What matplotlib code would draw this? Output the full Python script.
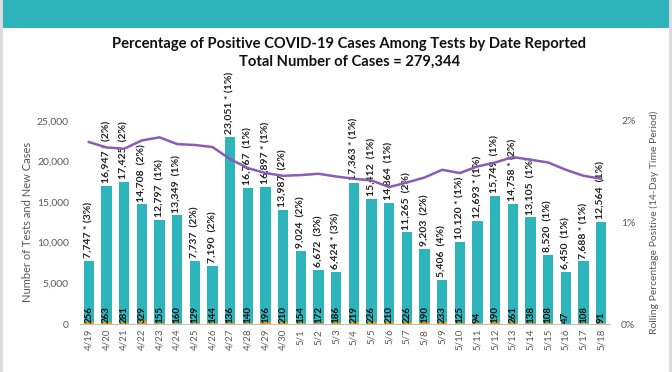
import matplotlib
matplotlib.use("Agg")
import matplotlib.pyplot as plt
from matplotlib.patches import Rectangle

plt.rcParams['font.family'] = ['Lato', 'DejaVu Sans']

dates = ["4/19", "4/20", "4/21", "4/22", "4/23", "4/24", "4/25", "4/26", "4/27", "4/28",
         "4/29", "4/30", "5/1", "5/2", "5/3", "5/4", "5/5", "5/6", "5/7", "5/8",
         "5/9", "5/10", "5/11", "5/12", "5/13", "5/14", "5/15", "5/16", "5/17", "5/18"]
tests = [7747, 16947, 17425, 14708, 12797, 13349, 7737, 7190, 23051, 16767,
         16897, 13987, 9024, 6672, 6424, 17363, 15412, 14864, 11265, 9203,
         5406, 10120, 12693, 15749, 14758, 13105, 8520, 6450, 7688, 12564]
cases = [256, 263, 281, 329, 155, 160, 129, 144, 136, 140,
         196, 210, 154, 172, 186, 219, 226, 210, 226, 190,
         233, 125, 94, 190, 261, 138, 108, 47, 108, 91]
daily_pct = [3, 2, 2, 2, 1, 1, 2, 2, 1, 1,
             1, 2, 2, 3, 3, 1, 1, 1, 2, 2,
             4, 1, 1, 1, 2, 1, 1, 1, 1, 1]
starred = [True, True, False, False, False, False, False, False, True, False,
           True, False, False, False, True, True, False, False, False, False,
           False, True, True, False, True, False, False, False, True, False]
rolling_pct = [1.79, 1.737, 1.724, 1.806, 1.836, 1.77, 1.761, 1.741, 1.622, 1.534,
               1.485, 1.458, 1.465, 1.478, 1.451, 1.429, 1.412, 1.347, 1.392, 1.441,
               1.517, 1.485, 1.55, 1.589, 1.642, 1.616, 1.589, 1.517, 1.458, 1.429]

TEAL = "#2eb4bb"
ORANGE = "#e0a21c"
PURPLE = "#8a5cb8"
GRAY = "#595959"

fig = plt.figure(figsize=(6.72, 3.72), dpi=100)
fig.patch.set_facecolor("white")

# header band and frame
fig.add_artist(Rectangle((0.003, 1 - 28 / 372), 0.994, 28 / 372, transform=fig.transFigure,
                         facecolor="#2eb4bb", edgecolor="none"))
fig.add_artist(Rectangle((0, 0), 3 / 672, 1, transform=fig.transFigure,
                         facecolor="#dcdce0", edgecolor="none"))
fig.add_artist(Rectangle((1 - 3 / 672, 0), 3 / 672, 1, transform=fig.transFigure,
                         facecolor="#dcdce0", edgecolor="none"))

fig.text(0.52, 1 - 44 / 372, "Percentage of Positive COVID-19 Cases Among Tests by Date Reported",
         ha="center", va="center", fontsize=10.6, fontweight="bold", color="#111111")
fig.text(0.52, 1 - 62 / 372, "Total Number of Cases = 279,344",
         ha="center", va="center", fontsize=10.6, fontweight="bold", color="#111111")

ax = fig.add_axes([80 / 672, 48 / 372, 530 / 672, (324 - 120.7) / 372])
x = list(range(len(dates)))
ax.bar(x, tests, width=0.6, color=TEAL, zorder=2)
ax.bar(x, cases, width=0.6, color=ORANGE, zorder=3)

for i in x:
    star = " *" if starred[i] else " "
    lab = f"{tests[i]:,}{star} ({daily_pct[i]}%)"
    ax.text(i, tests[i] + 350, lab, rotation=90, ha="center", va="bottom",
            fontsize=7.5, fontweight="bold", color="#222222", clip_on=False, zorder=5)
    ax.text(i, 150, f"{cases[i]}", rotation=90, ha="center", va="bottom",
            fontsize=7, fontweight="bold", color="#111111", zorder=5)

ax.set_xlim(-0.5, len(dates) - 0.5)
ax.set_ylim(0, 25000)
ax.set_yticks([0, 5000, 10000, 15000, 20000, 25000])
ax.set_yticklabels(["0", "5,000", "10,000", "15,000", "20,000", "25,000"])
ax.set_xticks(x)
ax.set_xticklabels(dates, rotation=90)
ax.tick_params(axis="both", length=0, labelsize=7, colors=GRAY)
ax.tick_params(axis="y", labelsize=7.5, pad=8)
for s in ["top", "right", "left"]:
    ax.spines[s].set_visible(False)
ax.spines["bottom"].set_color("#bfbfbf")
ax.set_ylabel("Number of Tests and New Cases", fontsize=8, color=GRAY, labelpad=3)

ax2 = ax.twinx()
ax2.plot(x, rolling_pct, color=PURPLE, linewidth=1.8, zorder=4)
ax2.set_ylim(0, 2)
ax2.set_yticks([0, 1, 2])
ax2.set_yticklabels(["0%", "1%", "2%"])
ax2.tick_params(axis="y", length=0, labelsize=7.5, colors=GRAY, pad=8)
for s in ["top", "right", "left", "bottom"]:
    ax2.spines[s].set_visible(False)
ax2.set_ylabel("Rolling Percentage Positive (14-Day Time Period)", fontsize=7.5, color=GRAY, labelpad=10)

fig.savefig("out.png", dpi=100)
